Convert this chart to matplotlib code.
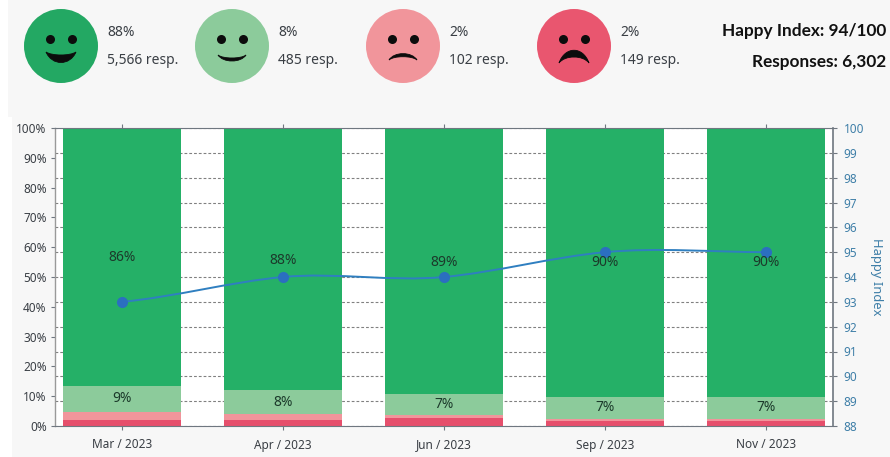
import matplotlib
matplotlib.use('Agg')
import matplotlib.pyplot as plt
import numpy as np
from matplotlib.patches import Circle, PathPatch, Rectangle
from matplotlib.path import Path

plt.rcParams['font.family'] = ['Noto Sans', 'DejaVu Sans']

months = ['Mar / 2023', 'Apr / 2023', 'Jun / 2023', 'Sep / 2023', 'Nov / 2023']
very_unhappy = [2, 2, 2.8, 1.7, 1.7]
unhappy = [2.7, 2, 0.8, 0.8, 0.8]
happy = [8.8, 8, 7.2, 7.3, 7.3]
very_happy = [86.5, 88, 89.2, 90.2, 90.2]
happy_labels = ['9%', '8%', '7%', '7%', '7%']
very_happy_labels = ['86%', '88%', '89%', '90%', '90%']
index_values = [93, 94, 94, 95, 95]

face_pct = ['88%', '8%', '2%', '2%']
face_resp = ['5,566 resp.', '485 resp.', '102 resp.', '149 resp.']
face_colors = ['#23a863', '#8ccb9b', '#f1959b', '#e9566f']

GREEN = '#25b067'
LIGHT_GREEN = '#8ccb9b'
PINK = '#f1959b'
RED = '#e64f6c'
BLUE = '#2f7fc0'
TEXT = '#3a3f45'
LABEL = '#1c3a2b'
AXIS = '#6f7780'
W, H = 890, 457

fig = plt.figure(figsize=(W / 100, H / 100), dpi=100, facecolor='#f7f7f7')

# white margin down the left edge of the picture
fig.patches.append(Rectangle((0, 0), 8 / W, 1, transform=fig.transFigure, fc='white', ec='none'))
fig.patches.append(Rectangle((0, 0), 12 / W, 1 - 117 / H, transform=fig.transFigure, fc='white', ec='none'))

# index axes sits at the back so its grid stays under the bars
ax2 = fig.add_axes([55 / W, 1 - 426 / H, (833 - 55) / W, (426 - 128) / H], zorder=0)
ax2.set_facecolor('white')
ax2.yaxis.tick_right()
ax2.yaxis.set_label_position('right')
ax2.set_xticks([])
ax2.set_ylim(88, 100)
ax2.set_yticks(range(88, 101))
ax2.tick_params(axis='y', length=3, color=AXIS, labelcolor='#3f7fa8', labelsize=8.5, pad=4.5)
ax2.grid(axis='y', color='#808080', ls=(0, (2.5, 1.8)), lw=0.8)
ax2.set_axisbelow(True)
ax2.set_ylabel('Happy Index', fontsize=9.3, color='#3f7fa8', rotation=270, va='center')
ax2.yaxis.set_label_coords(1.0565, 0.5)
for s in ['top', 'left', 'bottom']:
    ax2.spines[s].set_visible(False)
ax2.spines['right'].set_color(AXIS)
ax2.spines['right'].set_linewidth(1.2)

ax = fig.add_axes(ax2.get_position(), zorder=1)
ax.patch.set_visible(False)
x = np.arange(len(months))
bottom = np.zeros(len(months))
for vals, col in [(very_unhappy, RED), (unhappy, PINK), (happy, LIGHT_GREEN), (very_happy, GREEN)]:
    ax.bar(x, vals, 0.727, bottom=bottom, color=col, zorder=2)
    bottom = bottom + np.array(vals)
ax.set_xlim(-0.416, 4.416)
ax.set_ylim(0, 100)
ax.set_xticks(x)
ax.set_xticklabels(months, fontsize=8.5, color=TEXT)
ax.set_yticks(range(0, 101, 10))
ax.set_yticklabels([f'{v}%' for v in range(0, 101, 10)], fontsize=8.5, color=TEXT)
ax.tick_params(axis='x', length=3, color=AXIS, pad=6, top=True)
ax.tick_params(axis='y', length=3, color=AXIS, pad=3)
ax.spines['right'].set_visible(False)
ax.spines['top'].set_color(AXIS)
ax.spines['bottom'].set_color(AXIS)
ax.spines['left'].set_color('#9a9a9a')
ax.spines['left'].set_linewidth(1)

# line on a top layer with the index scale
ax3 = fig.add_axes(ax2.get_position(), frameon=False, zorder=2)
ax3.set_xlim(-0.416, 4.416)
ax3.set_ylim(88, 100)
ax3.axis('off')
ys = np.array(index_values, dtype=float)
verts = [(x[0], ys[0])]
codes = [Path.MOVETO]
for i in range(len(x) - 1):
    prev_y = ys[max(i - 1, 0)]
    next_y = ys[min(i + 2, len(ys) - 1)]
    verts += [(x[i] + 0.33, ys[i] + (ys[i + 1] - prev_y) * 0.2),
              (x[i + 1] - 0.33, ys[i + 1] - (next_y - ys[i]) * 0.2),
              (x[i + 1], ys[i + 1])]
    codes += [Path.CURVE4] * 3
ax3.add_patch(PathPatch(Path(verts, codes), fc='none', ec=BLUE, lw=1.4))
ax3.plot(x, ys, 'o', color='#2b6fc0', ms=8, mec='none')

label_pos = [56.7, 55.7, 55, 55, 55]
for i in x:
    ax3.text(i, 88 + label_pos[i] * 0.12, very_happy_labels[i], ha='center', va='center', fontsize=10, color=LABEL)
    mid = very_unhappy[i] + unhappy[i] + happy[i] / 2
    ax3.text(i, 88 + mid * 0.12, happy_labels[i], ha='center', va='center', fontsize=10, color=LABEL)

# header with the faces, in pixel coordinates
top = fig.add_axes([0, 0, 1, 1], zorder=4)
top.set_xlim(0, W)
top.set_ylim(H, 0)
top.axis('off')
face_x = [61, 232, 403, 574]
# mouth shapes: half width, end y, outer control y, inner control y (offset from face centre)
mouth_w = [15, 14, 14, 15]
mouth_end = [6, 9, 14, 17]
mouth_out = [20, 17, 5.5, 0]
mouth_in = [10, 13, 9.6, 9]
for i, cx in enumerate(face_x):
    cy = 46
    top.add_patch(Circle((cx, cy), 37, fc=face_colors[i], ec='none'))
    top.plot([cx - 11, cx + 11], [cy - 7, cy - 7], 'o', color='#0c0c0c', ms=6.5, mec='none')
    w = mouth_w[i]
    e, o, n = cy + mouth_end[i], cy + mouth_out[i], cy + mouth_in[i]
    pts = [(cx - w, e), (cx - 9, o), (cx + 9, o), (cx + w, e), (cx + 9, n), (cx - 9, n), (cx - w, e)]
    top.add_patch(PathPatch(Path(pts, [Path.MOVETO] + [Path.CURVE4] * 6), fc='#0c0c0c', ec='#0c0c0c', lw=0.6))
    top.text(cx + 46, 33, face_pct[i], fontsize=10, color=TEXT, va='center')
    top.text(cx + 46, 61, face_resp[i], fontsize=10, color=TEXT, va='center')

top.text(886, 31, 'Happy Index: 94/100', fontsize=12.4, family='Lato', fontweight='bold', color='#111111', ha='right', va='center')
top.text(886, 62, 'Responses: 6,302', fontsize=12.4, family='Lato', fontweight='bold', color='#111111', ha='right', va='center')

fig.savefig('out.png', dpi=100, facecolor=fig.get_facecolor())
